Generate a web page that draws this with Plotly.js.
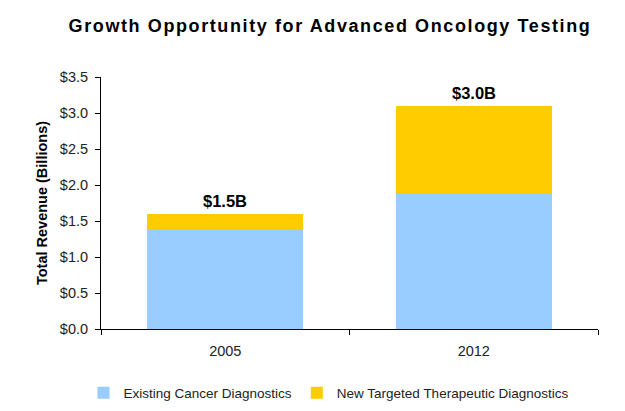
<!DOCTYPE html>
<html>
<head>
<meta charset="utf-8">
<script src="https://cdn.plot.ly/plotly-3.0.1.min.js"></script>
<style>
html,body{margin:0;padding:0;background:#fff;}
#chart{width:625px;height:411px;}
#chart .gtitle{letter-spacing:1.6px;}
</style>
</head>
<body>
<div id="chart"></div>
<script>
const categories = ["2005", "2012"];
const existingCancer = [1.39, 1.89];
const newTargeted = [0.21, 1.21];
const totalLabels = ["$1.5B", "$3.0B"];
const seriesNames = ["Existing Cancer Diagnostics", "New Targeted Therapeutic Diagnostics"];
const yTickVals = [0, 0.5, 1, 1.5, 2, 2.5, 3, 3.5];
const yTickText = ["$0.0", "$0.5", "$1.0", "$1.5", "$2.0", "$2.5", "$3.0", "$3.5"];

const font = "Liberation Sans, Arial, sans-serif";
const traces = [
  {type: "bar", x: categories, y: existingCancer, name: seriesNames[0], marker: {color: "#99CCFF"}},
  {type: "bar", x: categories, y: newTargeted, name: seriesNames[1], marker: {color: "#FFCC00"}}
];
const annotations = categories.map((c, i) => ({
  x: i, y: existingCancer[i] + newTargeted[i], xref: "x", yref: "y",
  text: "<b>" + totalLabels[i] + "</b>", showarrow: false, yanchor: "bottom", yshift: 2,
  font: {family: font, size: 16.5, color: "#000"}
}));
const layout = {
  width: 625, height: 411,
  margin: {l: 101, r: 27, t: 77, b: 82},
  paper_bgcolor: "#fff", plot_bgcolor: "#fff",
  barmode: "stack", bargap: 0.372,
  showlegend: true,
  title: {text: "<b>Growth Opportunity for Advanced Oncology Testing</b>", x: 0.528, xanchor: "center", y: 0.937, yanchor: "middle",
    font: {family: font, size: 18, color: "#000"}},
  xaxis: {type: "category", range: [-0.5, 1.5], showline: true, linecolor: "#000", linewidth: 1, ticks: "outside", tickson: "boundaries",
    ticklen: 5, tickcolor: "#000", showgrid: false, zeroline: false, ticklabelstandoff: 9,
    tickfont: {family: font, size: 14.5, color: "#222"}},
  yaxis: {range: [0, 3.5], tickvals: yTickVals, ticktext: yTickText, showline: true, linecolor: "#000", linewidth: 1,
    ticks: "outside", ticklen: 5, tickcolor: "#000", showgrid: false, zeroline: false, ticklabelstandoff: 4,
    tickfont: {family: font, size: 14.5, color: "#222"},
    title: {text: "<b>Total Revenue (Billions)</b>", font: {family: font, size: 14.5, color: "#000"}, standoff: 8}},
  legend: {orientation: "h", x: 0.1336, xref: "container", xanchor: "left", y: 0.0438, yref: "container", yanchor: "middle",
    font: {family: font, size: 13.5, color: "#222"}, traceorder: "normal", itemwidth: 30, bgcolor: "rgba(0,0,0,0)"},
  annotations: annotations
};
Plotly.newPlot("chart", traces, layout, {staticPlot: true, displayModeBar: false});
</script>
</body>
</html>
